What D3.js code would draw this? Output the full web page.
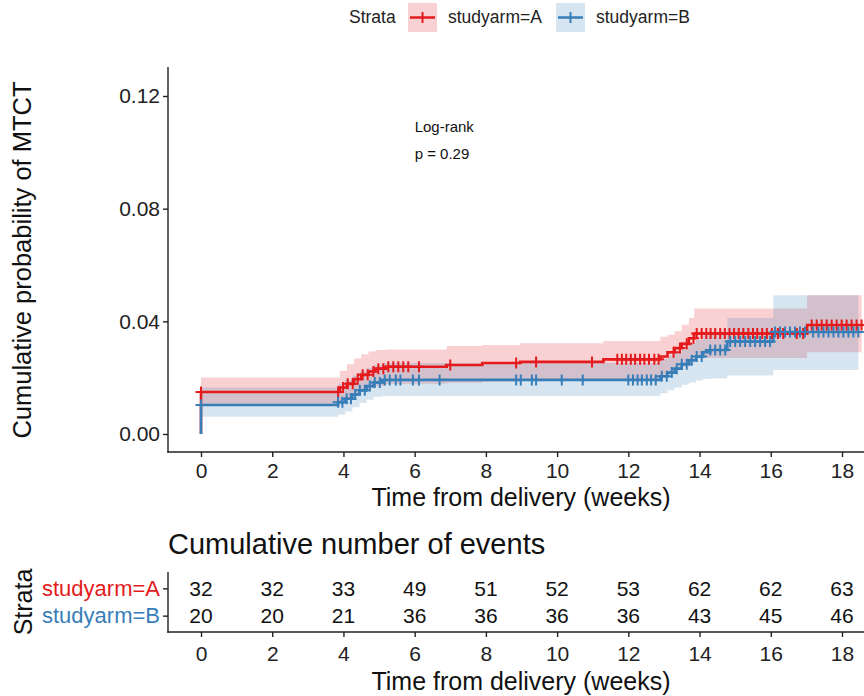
<!DOCTYPE html>
<html>
<head>
<meta charset="utf-8">
<script src="https://cdn.jsdelivr.net/npm/d3@7"></script>
<style>
  body { margin: 0; background: #fff; }
  text { font-family: Arial, "Liberation Sans", Helvetica, sans-serif; }
</style>
</head>
<body>
<svg id="chart" width="864" height="696"></svg>
<script>
// strata + colours
var strata = ["studyarm=A", "studyarm=B"];
var colors = ["#E41A1C", "#377EB8"];

// arm A: step times, cumulative probability, confidence band
var timeA  = [0, 3.9, 4.1, 4.3, 4.5, 4.7, 4.9, 5.2, 6.9, 7.9, 8.96, 11.3, 12.9, 13.1, 13.3, 13.5, 13.7, 13.85, 17.02];
var estA   = [0.0149, 0.0165, 0.0178, 0.0195, 0.0210, 0.0222, 0.0232, 0.0239, 0.0245, 0.0252, 0.0256, 0.0265, 0.0275, 0.0290, 0.0305, 0.0320, 0.0340, 0.0357, 0.0387];
var upperA = [0.0201, 0.0225, 0.0248, 0.0268, 0.0283, 0.0293, 0.0298, 0.0300, 0.0312, 0.0316, 0.0322, 0.0330, 0.0345, 0.0352, 0.0365, 0.0388, 0.0412, 0.0446, 0.0493];
var lowerA = [0.0105, 0.0115, 0.0125, 0.0140, 0.0152, 0.0162, 0.0170, 0.0178, 0.0182, 0.0186, 0.0188, 0.0195, 0.0203, 0.0215, 0.0228, 0.0240, 0.0255, 0.0270, 0.0290];
var censorA = [0, 3.85, 3.99, 4.12, 4.26, 4.4, 4.54, 4.68, 4.84, 4.98, 5.12, 5.26, 5.4, 5.54, 5.68, 5.82, 6.12, 7.0,
  8.85, 9.41, 10.98, 11.69, 11.82, 11.94, 12.07, 12.19, 12.33, 12.45, 12.58, 12.73, 12.85,
  13.27, 13.45, 13.64, 13.83, 13.92, 14.06, 14.19, 14.31, 14.44, 14.58, 14.71, 14.84, 14.97, 15.1, 15.23,
  15.37, 15.5, 15.62, 15.76, 15.89, 16.03, 16.2, 16.35, 16.73, 16.91, 17.15, 17.29, 17.43, 17.57, 17.71,
  17.85, 17.99, 18.13, 18.27, 18.41, 18.55];
var endA = 18.55;

// arm B
var timeB  = [0, 3.85, 4.05, 4.25, 4.45, 4.65, 4.85, 5.1, 12.9, 13.1, 13.3, 13.5, 13.7, 13.9, 14.1, 14.3, 14.78, 16.07];
var estB   = [0.0103, 0.0113, 0.0125, 0.0140, 0.0155, 0.0170, 0.0183, 0.0192, 0.0205, 0.0218, 0.0232, 0.0248, 0.0262, 0.0275, 0.0290, 0.0298, 0.0328, 0.0362];
var upperB = [0.0165, 0.0178, 0.0192, 0.0208, 0.0222, 0.0235, 0.0245, 0.0252, 0.0265, 0.0278, 0.0292, 0.0308, 0.0322, 0.0335, 0.0348, 0.0355, 0.0412, 0.0493];
var lowerB = [0.0061, 0.0068, 0.0080, 0.0095, 0.0110, 0.0122, 0.0132, 0.0135, 0.0145, 0.0155, 0.0165, 0.0175, 0.0183, 0.0190, 0.0195, 0.0197, 0.0208, 0.0227];
var censorB = [0, 3.85, 3.97, 4.09, 4.21, 4.33, 4.46, 4.6, 4.74, 4.88, 5.02, 5.16, 5.3, 5.47, 5.6, 5.95, 6.12, 6.7,
  8.85, 8.98, 9.29, 9.41, 10.13, 10.72, 12.0, 12.13, 12.26, 12.38, 12.52, 12.64, 12.77,
  12.94, 13.08, 13.22, 13.36, 13.5, 13.64, 13.78, 13.92, 14.06, 14.3, 14.44, 14.58, 14.72, 14.86, 15.0,
  15.14, 15.28, 15.42, 15.56, 15.7, 15.84, 15.98, 16.12, 16.26, 16.4, 16.54, 16.68, 16.82, 16.96,
  17.19, 17.34, 17.48, 17.62, 17.76, 17.9, 18.04, 18.18, 18.32, 18.46];
var endB = 18.46;

// risk table
var tableTimes = [0, 2, 4, 6, 8, 10, 12, 14, 16, 18];
var eventsA = [32, 32, 33, 49, 51, 52, 53, 62, 62, 63];
var eventsB = [20, 20, 21, 36, 36, 36, 36, 43, 45, 46];
var yTicks = [0, 0.04, 0.08, 0.12];

var arms = [
  {time: timeA, est: estA, up: upperA, low: lowerA, cens: censorA, end: endA, color: colors[0]},
  {time: timeB, est: estB, up: upperB, low: lowerB, cens: censorB, end: endB, color: colors[1]}
];

var svg = d3.select("#chart");

var x = d3.scaleLinear().domain([0, 18]).range([201, 842]);
var y = d3.scaleLinear().domain([0, 0.12]).range([434, 96]);

function stepVal(times, vals, t) {
  var i = d3.bisectRight(times, t) - 1;
  return vals[Math.max(i, 0)];
}

// legend
var leg = svg.append("g");
leg.append("text").attr("x", 349).attr("y", 23).style("font-size", "17.5px").attr("fill", "#222").text("Strata");
var legX = [408, 556];
strata.forEach(function(s, i) {
  var g = leg.append("g").attr("transform", "translate(" + legX[i] + ",3)");
  g.append("rect").attr("width", 29).attr("height", 29).attr("fill", colors[i]).attr("fill-opacity", 0.2);
  g.append("line").attr("x1", 2).attr("x2", 27).attr("y1", 14.5).attr("y2", 14.5)
    .attr("stroke", colors[i]).attr("stroke-width", 2.5);
  g.append("path").attr("d", "M14.5,9V20").attr("stroke", colors[i]).attr("stroke-width", 2);
  g.append("text").attr("x", 40).attr("y", 20).style("font-size", "17.5px").attr("fill", "#222").text(s);
});

// ribbons
var area = d3.area()
  .x(function(d) { return x(d[0]); })
  .y0(function(d) { return y(d[1]); })
  .y1(function(d) { return y(d[2]); })
  .curve(d3.curveStepAfter);

arms.forEach(function(a) {
  var pts = a.time.map(function(t, i) { return [t, a.low[i], a.up[i]]; });
  var n = a.time.length - 1;
  pts.push([a.end, a.low[n], a.up[n]]);
  svg.append("path").attr("d", area(pts)).attr("fill", a.color).attr("fill-opacity", 0.2);
});

// step lines
var line = d3.line()
  .x(function(d) { return x(d[0]); })
  .y(function(d) { return y(d[1]); })
  .curve(d3.curveStepAfter);

arms.forEach(function(a) {
  var pts = [[0, 0]].concat(a.time.map(function(t, i) { return [t, a.est[i]]; }));
  pts.push([a.end, a.est[a.est.length - 1]]);
  svg.append("path").attr("d", line(pts)).attr("fill", "none")
    .attr("stroke", a.color).attr("stroke-width", 2.6);
});

// censoring crosses
arms.forEach(function(a) {
  svg.append("g").selectAll("path")
    .data(a.cens)
    .enter()
    .append("path")
    .attr("transform", function(t) { return "translate(" + x(t) + "," + y(stepVal(a.time, a.est, t)) + ")"; })
    .attr("d", "M-5.5,0H5.5M0,-5.5V5.5")
    .attr("stroke", a.color)
    .attr("stroke-width", 2);
});

// axes of the main plot
var axisColor = "#222";
var gy = svg.append("g").attr("transform", "translate(168,0)")
  .call(d3.axisLeft(y).tickValues(yTicks).tickFormat(d3.format(".2f")).tickSize(5).tickPadding(3));
var gx = svg.append("g").attr("transform", "translate(0,452)")
  .call(d3.axisBottom(x).tickValues(tableTimes).tickSize(5).tickPadding(6));
[gx, gy].forEach(function(g) {
  g.select(".domain").remove();
  g.selectAll("line").attr("stroke", axisColor).attr("stroke-width", 1.4);
  g.selectAll("text").attr("fill", "#222").style("font-size", "21px").attr("font-family", null);
});
svg.append("line").attr("x1", 168).attr("x2", 168).attr("y1", 67).attr("y2", 452.7)
  .attr("stroke", axisColor).attr("stroke-width", 1.4);
svg.append("line").attr("x1", 167.3).attr("x2", 864).attr("y1", 452).attr("y2", 452)
  .attr("stroke", axisColor).attr("stroke-width", 1.4);

svg.append("text").attr("x", 521).attr("y", 506).attr("text-anchor", "middle")
  .style("font-size", "25px").attr("fill", "#111").text("Time from delivery (weeks)");
svg.append("text").attr("transform", "translate(31,260) rotate(-90)").attr("text-anchor", "middle")
  .style("font-size", "25.5px").attr("fill", "#111").text("Cumulative probability of MTCT");

// p-value annotation
svg.append("text").attr("x", x(6)).attr("y", 132).style("font-size", "15px").attr("fill", "#111").text("Log-rank");
svg.append("text").attr("x", x(6)).attr("y", 159).style("font-size", "15px").attr("fill", "#111").text("p = 0.29");

// risk table
var ty = d3.scalePoint().domain(strata).range([572, 632]).padding(0.6);
svg.append("text").attr("x", 168).attr("y", 554).style("font-size", "29px").attr("fill", "#111")
  .text("Cumulative number of events");

var tableRows = [eventsA, eventsB];
tableRows.forEach(function(row, r) {
  svg.append("g").selectAll("text")
    .data(row)
    .enter()
    .append("text")
    .attr("x", function(d, i) { return x(tableTimes[i]); })
    .attr("y", ty(strata[r]))
    .attr("dy", "0.36em")
    .attr("text-anchor", "middle")
    .style("font-size", "21px")
    .attr("fill", "#111")
    .text(function(d) { return d; });
});

var tgy = svg.append("g").attr("transform", "translate(168,0)")
  .call(d3.axisLeft(ty).tickSize(5).tickPadding(3));
tgy.select(".domain").remove();
tgy.selectAll("line").attr("stroke", axisColor).attr("stroke-width", 1.4);
tgy.selectAll("text").style("font-size", "22px").attr("font-family", null)
  .attr("fill", function(d, i) { return colors[i]; });

var tgx = svg.append("g").attr("transform", "translate(0,632)")
  .call(d3.axisBottom(x).tickValues(tableTimes).tickSize(5).tickPadding(9));
tgx.select(".domain").remove();
tgx.selectAll("line").attr("stroke", axisColor).attr("stroke-width", 1.4);
tgx.selectAll("text").attr("fill", "#222").style("font-size", "21px").attr("font-family", null);

svg.append("line").attr("x1", 168).attr("x2", 168).attr("y1", 572).attr("y2", 632.7)
  .attr("stroke", axisColor).attr("stroke-width", 1.4);
svg.append("line").attr("x1", 167.3).attr("x2", 864).attr("y1", 632).attr("y2", 632)
  .attr("stroke", axisColor).attr("stroke-width", 1.4);

svg.append("text").attr("x", 521).attr("y", 690).attr("text-anchor", "middle")
  .style("font-size", "25px").attr("fill", "#111").text("Time from delivery (weeks)");
svg.append("text").attr("transform", "translate(32,602) rotate(-90)").attr("text-anchor", "middle")
  .style("font-size", "25px").attr("fill", "#111").text("Strata");
</script>
</body>
</html>
